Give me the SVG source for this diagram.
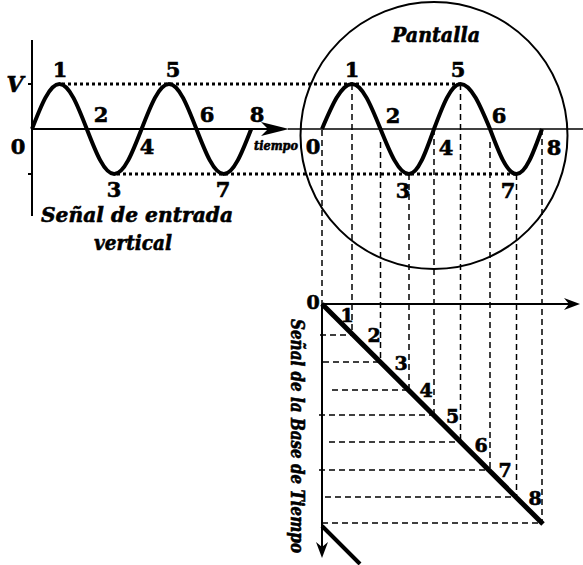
<svg xmlns="http://www.w3.org/2000/svg" width="583" height="565" viewBox="0 0 583 565">
<style>
.wave{fill:none;stroke:#000;stroke-width:4;stroke-linejoin:round}
.axis{fill:none;stroke:#000;stroke-width:2}
.thin{fill:none;stroke:#000;stroke-width:1.5}
.dot{fill:none;stroke:#000;stroke-width:3;stroke-dasharray:3 3}
.dash{fill:none;stroke:#000;stroke-width:1.5;stroke-dasharray:6 4}
text{fill:#000;stroke:#000;stroke-width:0.6}
.num{font-family:"DejaVu Serif","Liberation Serif",serif;font-weight:bold;font-size:21px;text-anchor:middle}
.numb{font-size:19px}
.lbl{font-family:"DejaVu Serif","Liberation Serif",serif;font-weight:bold;font-style:italic}
.head{fill:#000;stroke:none}
</style>
<rect width="583" height="565" fill="#fff"/>

<g id="input-signal">
  <line class="axis" x1="32" y1="40" x2="32" y2="216"/>
  <line class="axis" x1="28" y1="84" x2="32" y2="84"/>
  <line class="axis" x1="28" y1="174" x2="32" y2="174"/>
  <line class="axis" x1="32" y1="129" x2="270" y2="129" stroke-width="2.5"/>
  <polygon class="head" points="289,129 261,122 268,129 261,136"/>
  <path class="wave" d="M32,129 C40.94,105.95 49.48,84 59.4,84 C69.32,84 77.86,105.95 86.8,129 C95.74,152.05 104.28,174 114.2,174 C124.12,174 132.66,152.05 141.6,129 C150.54,105.95 159.08,84 169,84 C178.92,84 187.46,105.95 196.4,129 C205.34,152.05 213.88,174 223.8,174 C233.72,174 242.26,152.05 251.2,129"/>
  <text class="lbl" x="15" y="92" font-size="22" text-anchor="middle">V</text>
  <text class="num" x="60" y="77">1</text>
  <text class="num" x="101" y="122">2</text>
  <text class="num" x="114" y="197">3</text>
  <text class="num" x="147" y="154">4</text>
  <text class="num" x="173" y="77">5</text>
  <text class="num" x="207" y="122">6</text>
  <text class="num" x="223" y="197">7</text>
  <text class="num" x="257" y="122">8</text>
  <text class="num" x="18" y="154">0</text>
  <text class="lbl" x="254" y="150" font-size="12" textLength="44" lengthAdjust="spacingAndGlyphs">tiempo</text>
  <text class="lbl" x="41" y="222" font-size="21" textLength="192" lengthAdjust="spacingAndGlyphs">Señal de entrada</text>
  <text class="lbl" x="94" y="250" font-size="21" textLength="78" lengthAdjust="spacingAndGlyphs">vertical</text>
</g>

<g id="screen">
  <circle cx="434" cy="135.5" r="133.5" fill="none" stroke="#000" stroke-width="2"/>
  <line class="thin" x1="288" y1="129" x2="583" y2="129"/>
  <path class="wave" d="M322,129 C331.78,105.95 341.14,84 352,84 C362.31,84 371.21,105.95 380.5,129 C389.79,152.05 398.69,174 409,174 C418.05,174 425.85,152.05 434,129 C442.64,105.95 450.91,84 460.5,84 C471.18,84 480.38,105.95 490,129 C498.64,152.05 506.91,174 516.5,174 C525.73,174 533.68,152.05 542,129"/>
  <text class="lbl" x="436" y="42" font-size="21" text-anchor="middle" textLength="88" lengthAdjust="spacingAndGlyphs">Pantalla</text>
  <text class="num" x="313" y="154">0</text>
  <text class="num" x="352" y="77">1</text>
  <text class="num" x="393" y="123">2</text>
  <text class="num" x="403" y="198">3</text>
  <text class="num" x="446" y="155">4</text>
  <text class="num" x="458" y="77">5</text>
  <text class="num" x="499" y="123">6</text>
  <text class="num" x="508" y="198">7</text>
  <text class="num" x="554" y="155">8</text>
</g>

<g id="timebase">
  <line class="axis" x1="322" y1="304" x2="572" y2="304"/>
  <polygon class="head" points="580,304 564,298 569,304 564,310"/>
  <line class="axis" x1="322" y1="304" x2="322" y2="550"/>
  <polygon class="head" points="322,558 316,542 322,547 328,542"/>
  <line x1="322" y1="304" x2="543" y2="524" stroke="#000" stroke-width="5"/>
  <line x1="322" y1="526" x2="360" y2="564" stroke="#000" stroke-width="4"/>
  <text class="num numb" x="313" y="309">0</text>
  <text class="num numb" x="347" y="322">1</text>
  <text class="num numb" x="374" y="342">2</text>
  <text class="num numb" x="401" y="370">3</text>
  <text class="num numb" x="426" y="397">4</text>
  <text class="num numb" x="452.5" y="423">5</text>
  <text class="num numb" x="481" y="452">6</text>
  <text class="num numb" x="505" y="477">7</text>
  <text class="num numb" x="535" y="505">8</text>
  <text class="lbl" transform="translate(291,319) rotate(90)" font-size="18" textLength="234" lengthAdjust="spacingAndGlyphs">Señal de la Base de Tiempo</text>
</g>

<g id="connectors">
  <line class="dot" x1="62" y1="84" x2="460.5" y2="84"/>
  <line class="dot" x1="117" y1="174" x2="516.5" y2="174"/>
  <line class="dash" x1="322" y1="130" x2="322" y2="304"/>
  <line class="dash" x1="352" y1="84" x2="352" y2="335"/>
  <line class="dash" x1="380.5" y1="142" x2="380.5" y2="362"/>
  <line class="dash" x1="409" y1="174" x2="409" y2="390"/>
  <line class="dash" x1="434" y1="129" x2="434" y2="415"/>
  <line class="dash" x1="460.5" y1="84" x2="460.5" y2="442"/>
  <line class="dash" x1="490" y1="142" x2="490" y2="470"/>
  <line class="dash" x1="516.5" y1="174" x2="516.5" y2="497"/>
  <line class="dash" x1="542" y1="129" x2="542" y2="523"/>
  <line class="dash" x1="320" y1="335" x2="352" y2="335"/>
  <line class="dash" x1="323" y1="362" x2="380.5" y2="362"/>
  <line class="dash" x1="332" y1="390" x2="409" y2="390"/>
  <line class="dash" x1="319" y1="415" x2="434" y2="415"/>
  <line class="dash" x1="329" y1="442" x2="460.5" y2="442"/>
  <line class="dash" x1="319" y1="470" x2="490" y2="470"/>
  <line class="dash" x1="325" y1="497" x2="516.5" y2="497"/>
  <line class="dash" x1="322" y1="523" x2="542" y2="523"/>
</g>
</svg>
